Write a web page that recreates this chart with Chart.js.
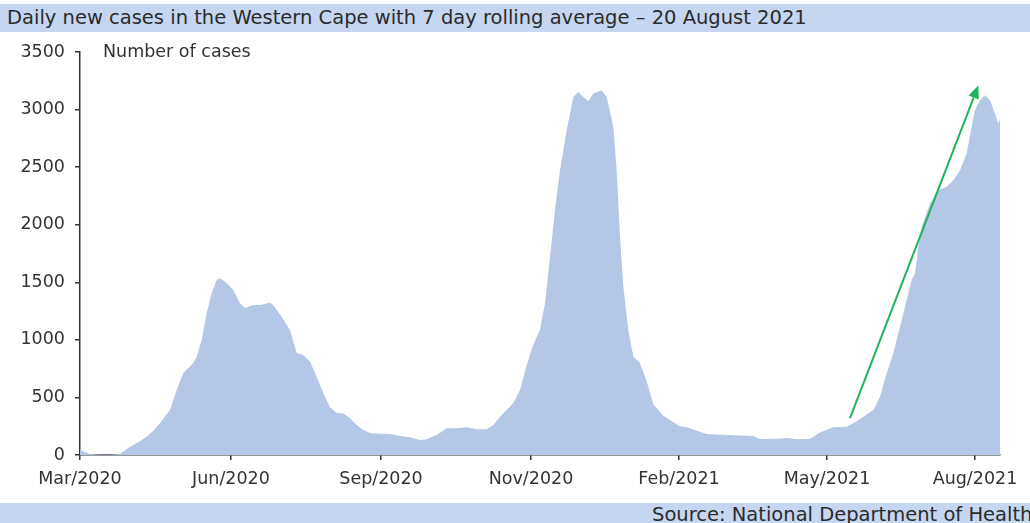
<!DOCTYPE html>
<html>
<head>
<meta charset="utf-8">
<script src="https://cdn.jsdelivr.net/npm/chart.js@4.4.1/dist/chart.umd.min.js"></script>
<style>
  html, body { margin: 0; padding: 0; background: #fff; overflow: hidden; }
  #wrap { position: relative; width: 1030px; height: 523px; overflow: hidden; }
  #chart { position: absolute; left: 0; top: 0; }
  .bar { position: absolute; left: 0; width: 1030px; background: #c6d6f1; color: #2b2b2b;
         font-family: "DejaVu Sans", sans-serif; white-space: nowrap; overflow: hidden; }
  #title { top: 4px; height: 28px; font-size: 19.5px; line-height: 28px; padding-left: 7px; box-sizing: border-box; }
  #source { top: 503px; height: 20px; font-size: 19.5px; }
  #source span { position: absolute; left: 652px; top: 1px; line-height: 22px; }
  #unit { position: absolute; left: 103px; top: 41px; font: 17.5px "DejaVu Sans", sans-serif; color: #333; }
</style>
</head>
<body>
<div id="wrap">
  <canvas id="chart" width="1030" height="523"></canvas>
  <div id="title" class="bar">Daily new cases in the Western Cape with 7 day rolling average – 20 August 2021</div>
  <div id="source" class="bar"><span>Source: National Department of Health</span></div>
  <div id="unit">Number of cases</div>
</div>
<script>
// days since start of series (early March 2020)
const days = [0, 2, 6, 12, 18, 24, 30, 36, 40, 44, 48, 54, 58, 62, 68, 70, 73, 76, 79, 82, 84, 88, 92, 96, 99,
  104, 108, 114, 116, 121, 126, 130, 134, 138, 142, 146, 150, 154, 158, 162, 166, 170, 174, 180, 186, 192, 198,
  204, 208, 214, 220, 226, 232, 238, 244, 248, 252, 256, 260, 264, 268, 272, 276, 279, 282, 285, 288, 292, 296,
  299, 302, 305, 308, 313, 316, 320, 322, 324, 326, 329, 332, 336, 340, 344, 350, 356, 360, 364, 376, 388, 404,
  408, 418, 424, 430, 438, 444, 452, 460, 464, 470, 476, 480, 484, 488, 492, 496, 499, 501, 503, 505, 510, 515,
  520, 524, 528, 532, 535, 537, 540, 543, 546, 549, 551, 552];
// 7 day rolling average of daily new cases
const cases = [50, 30, 8, 5, 5, 8, 72, 120, 159, 210, 278, 390, 564, 712, 798, 853, 998, 1232, 1406, 1519, 1536,
  1493, 1432, 1319, 1276, 1302, 1302, 1322, 1302, 1200, 1085, 885, 868, 810, 680, 538, 415, 365, 360, 320, 260,
  217, 191, 185, 182, 165, 154, 130, 136, 174, 232, 232, 240, 223, 223, 260, 332, 390, 451, 564, 780, 960, 1090,
  1319, 1721, 2127, 2474, 2821, 3110, 3153, 3110, 3075, 3139, 3168, 3110, 2850, 2474, 1895, 1461, 1085, 853, 800,
  640, 440, 340, 285, 250, 240, 182, 174, 165, 138, 142, 148, 136, 142, 195, 240, 246, 275, 332, 390, 506, 709,
  883, 1114, 1345, 1519, 1577, 1808, 1982, 2184, 2300, 2329, 2387, 2474, 2619, 2850, 2995, 3081, 3125, 3081,
  2966, 2879, 2925];

const tickDays = [0, 90.6, 180.6, 270.6, 359.4, 448.2, 537];
const tickLabels = ['Mar/2020', 'Jun/2020', 'Sep/2020', 'Nov/2020', 'Feb/2021', 'May/2021', 'Aug/2021'];

// green trend arrow: [day, cases]
const arrowFrom = [462, 320];
const arrowTo = [539, 3210];

const axisColor = '#333';
const tickFont = { family: 'DejaVu Sans', size: 17.5 };

const arrowPlugin = {
  id: 'trendArrow',
  afterDatasetsDraw(chart) {
    const { ctx, scales: { x, y } } = chart;
    const x0 = x.getPixelForValue(arrowFrom[0]), y0 = y.getPixelForValue(arrowFrom[1]);
    const x1 = x.getPixelForValue(arrowTo[0]), y1 = y.getPixelForValue(arrowTo[1]);
    const ang = Math.atan2(y1 - y0, x1 - x0);
    const headLen = 13, headW = 5.5;
    const bx = x1 - headLen * Math.cos(ang), by = y1 - headLen * Math.sin(ang);
    ctx.save();
    ctx.strokeStyle = '#22b35c';
    ctx.fillStyle = '#22b35c';
    ctx.lineWidth = 2;
    ctx.beginPath();
    ctx.moveTo(x0, y0);
    ctx.lineTo(bx, by);
    ctx.stroke();
    ctx.beginPath();
    ctx.moveTo(x1, y1);
    ctx.lineTo(bx + headW * Math.sin(ang), by - headW * Math.cos(ang));
    ctx.lineTo(bx - headW * Math.sin(ang), by + headW * Math.cos(ang));
    ctx.closePath();
    ctx.fill();
    ctx.restore();
  }
};

new Chart(document.getElementById('chart').getContext('2d'), {
  type: 'line',
  data: {
    datasets: [{
      data: days.map((d, i) => ({ x: d, y: cases[i] })),
      fill: 'origin',
      backgroundColor: '#b4c7e7',
      borderWidth: 0,
      pointRadius: 0,
      tension: 0,
    }],
  },
  options: {
    responsive: false,
    animation: false,
    layout: { padding: { top: 52, right: 30, bottom: 0, left: 0 } },
    plugins: { legend: { display: false }, tooltip: { enabled: false } },
    scales: {
      x: {
        type: 'linear',
        min: 0,
        max: 552,
        afterBuildTicks: (scale) => { scale.ticks = tickDays.map(v => ({ value: v })); },
        afterFit: (scale) => { scale.height = 68; },
        grid: { drawOnChartArea: false, drawTicks: true, tickLength: 5, color: axisColor, lineWidth: 1.5 },
        border: { display: true, color: axisColor, width: 1.5 },
        ticks: {
          autoSkip: false,
          maxRotation: 0,
          padding: 9,
          color: axisColor,
          font: tickFont,
          callback: (v) => tickLabels[tickDays.indexOf(v)],
        },
      },
      y: {
        min: 0,
        max: 3500,
        afterFit: (scale) => { scale.width = 80; },
        grid: { drawOnChartArea: false, drawTicks: true, tickLength: 5, color: axisColor, lineWidth: 1.5 },
        border: { display: true, color: axisColor, width: 1.5 },
        ticks: { stepSize: 500, padding: 10, color: axisColor, font: tickFont, callback: (v) => String(v) },
      },
    },
  },
  plugins: [arrowPlugin],
});
</script>
</body>
</html>
